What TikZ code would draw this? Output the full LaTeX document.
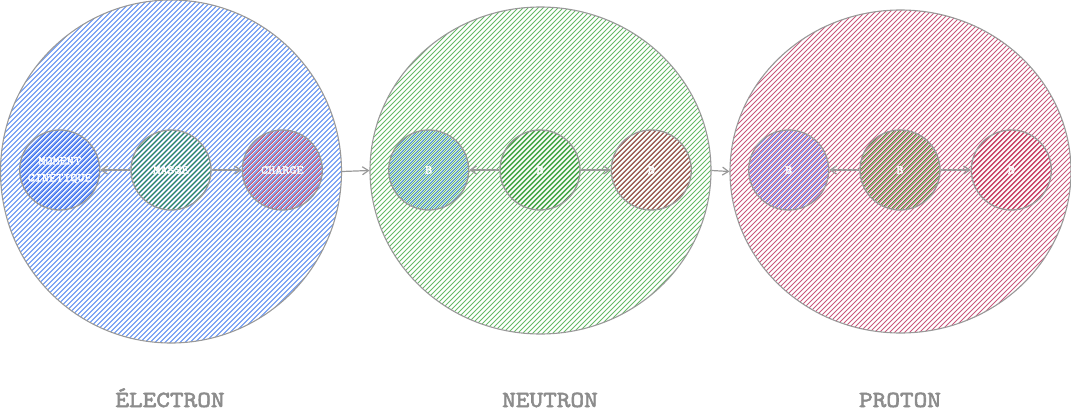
\documentclass[tikz,border=0pt]{standalone}
\usepackage{fontspec}
\newfontfamily\typefont{lmmono10-regular.otf}[FakeBold=2.5, FakeStretch=1.13]
\usetikzlibrary{shapes.geometric,arrows.meta,positioning,calc}

\definecolor{linegray}{HTML}{999999}
\definecolor{textgray}{HTML}{8C8C8C}
\definecolor{eblue}{HTML}{5286F0}
\definecolor{emoment}{HTML}{3A6BEE}
\definecolor{emasse}{HTML}{2E8A5C}
\definecolor{echarge}{HTML}{B0466F}
\definecolor{ngreen}{HTML}{66BA66}
\definecolor{nblue}{HTML}{3585C8}
\definecolor{ngreentwo}{HTML}{43A343}
\definecolor{nbrown}{HTML}{A04A4A}
\definecolor{pred}{HTML}{C9587C}
\definecolor{pblue}{HTML}{6675E8}
\definecolor{pgreen}{HTML}{5A8A3C}
\definecolor{predtwo}{HTML}{C94064}

\tikzset{
  hatch/.style={path picture={
    \foreach \s in {-360,-355,...,360}
      \draw[line width=0.8pt, #1, shift={(path picture bounding box.center)}] (\s-180,180) -- (\s+180,-180);
  }}
}
\tikzstyle{particle} = [ellipse, draw=linegray, line width=1.1pt, minimum width=341pt, inner sep=0pt]
\tikzstyle{prop} = [circle, draw=linegray, line width=1.3pt, minimum size=80pt, inner sep=0pt, align=center, text=white, font=\typefont\fontsize{12}{17}\selectfont]
\tikzstyle{caption} = [anchor=base, text=textgray, font=\typefont\fontsize{23}{26}\selectfont]
\tikzstyle{arrow} = [draw=linegray, line width=1.2pt, -{Straight Barb[length=6pt,width=8pt]}]

\begin{document}
\begin{tikzpicture}[x=1pt, y=-1pt]
  \useasboundingbox (0,0) rectangle (1071,415);

  % big circles
  \node[particle, minimum height=343pt, hatch=eblue] (electron) at (171,171.5) {};
  \node[particle, minimum height=327pt, hatch=ngreen] (neutron) at (540.5,170.5) {};
  \node[particle, minimum height=323pt, hatch=pred] (proton) at (900.5,171.5) {};

  % electron
  \node[prop, hatch={emasse, line width=0.95pt}] (masse) at (171,170) {MASSE};
  \node[prop, hatch={emoment, line width=0.95pt}, left=30pt of masse] (moment) {MOMENT\\CINÉTIQUE};
  \node[prop, hatch={echarge, line width=0.95pt}, right=30pt of masse] (charge) {CHARGE};

  % neutron
  \node[prop, hatch={ngreentwo, line width=0.95pt}] (nmid) at (540,170) {B};
  \node[prop, hatch={nblue, line width=0.95pt}, left=30pt of nmid] (nleft) {B};
  \node[prop, hatch={nbrown, line width=0.95pt}, right=30pt of nmid] (nright) {B};

  % proton
  \node[prop, hatch={pgreen, line width=0.95pt}] (pmid) at (900,170) {B};
  \node[prop, hatch={pblue, line width=0.95pt}, left=30pt of pmid] (pleft) {B};
  \node[prop, hatch={predtwo, line width=0.95pt}, right=30pt of pmid] (pright) {B};

  \draw[arrow] (masse) -- (moment);
  \draw[arrow] (masse) -- (charge);
  \draw[arrow] (nmid) -- (nleft);
  \draw[arrow] (nmid) -- (nright);
  \draw[arrow] (pmid) -- (pleft);
  \draw[arrow] (pmid) -- (pright);

  \draw[arrow] (electron.east) -- (neutron.west);
  \draw[arrow] (neutron.east) -- (proton.west);

  \node[caption] (lblelectron) at (170,407) {ÉLECTRON};
  \node[caption] (lblneutron) at (550,407) {NEUTRON};
  \node[caption] (lblproton) at (900,407) {PROTON};
\end{tikzpicture}
\end{document}
